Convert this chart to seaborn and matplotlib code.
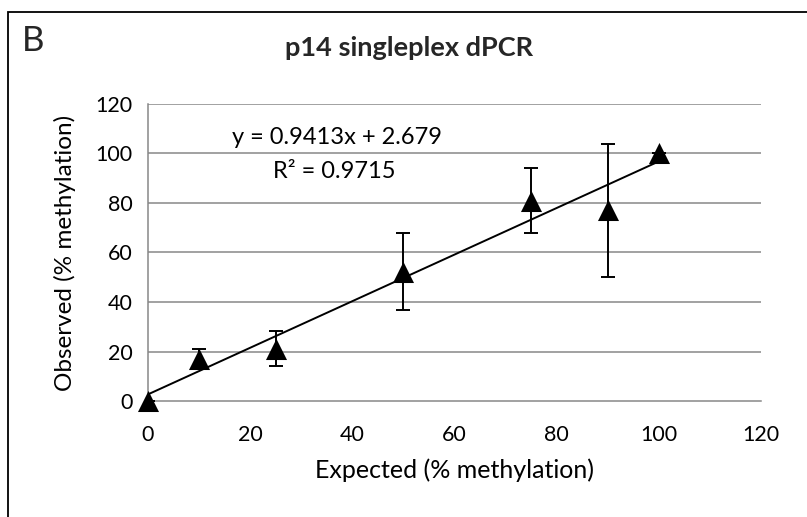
import numpy as np
import pandas as pd
import matplotlib
matplotlib.use("Agg")
import matplotlib.pyplot as plt
import matplotlib.patches as mpatches
import seaborn as sns

# Expected vs observed methylation (p14 singleplex dPCR)
expected = [0, 10, 25, 50, 75, 90, 100]
observed = [0, 17, 21.2, 52.2, 81, 77, 100]
err = [0, 4, 7, 15.5, 13, 27, 0]

# Linear trendline as reported
slope = 0.9413
intercept = 2.679
r_squared = 0.9715

x_ticks = [0, 20, 40, 60, 80, 100, 120]
y_ticks = [0, 20, 40, 60, 80, 100, 120]

sns.set_theme(style="white")
plt.rcParams["font.family"] = ["Lato", "DejaVu Sans"]

df = pd.DataFrame({"expected": expected, "observed": observed, "err": err})

fig = plt.figure(figsize=(8.07, 5.17), dpi=100)
ax = fig.add_axes([148 / 807, 116 / 517, (761 - 148) / 807, (401 - 104) / 517])

grid_col = "#878787"
for yv in y_ticks[1:]:
    ax.axhline(yv, color=grid_col, lw=1.1, zorder=0)

# trendline
xl = np.array([min(expected), max(expected)])
ax.plot(xl, slope * xl + intercept, color="black", lw=1.4, zorder=2)

# error bars
ax.errorbar(df["expected"], df["observed"], yerr=df["err"], fmt="none",
            ecolor="black", elinewidth=1.4, capsize=5, capthick=1.4, zorder=3)

sns.scatterplot(data=df, x="expected", y="observed", marker="^", s=230,
                color="black", edgecolor="black", linewidth=0, ax=ax, zorder=4,
                legend=False, clip_on=False)

ax.set_xlim(0, 120)
ax.set_ylim(0, 120)
ax.set_xticks(x_ticks)
ax.set_yticks(y_ticks)
ax.tick_params(axis="both", which="both", length=8, width=1.1, color=grid_col,
               labelsize=15.5, labelcolor="black", pad=3)
ax.tick_params(axis="x", pad=9)
for side in ["top", "right"]:
    ax.spines[side].set_visible(False)
for side in ["left", "bottom"]:
    ax.spines[side].set_color(grid_col)
    ax.spines[side].set_linewidth(1.1)

ax.set_xlabel("Expected (% methylation)", fontsize=18, color="black", labelpad=10)
ax.set_ylabel("Observed (% methylation)", fontsize=17.5, color="black", labelpad=14)

ax.text(37, 106.3, f"y = {slope:.4f}x + {intercept:.3f}", fontsize=17,
        ha="center", va="center", color="black")
ax.text(36.5, 92.6, f"R² = {r_squared:.4f}", fontsize=17,
        ha="center", va="center", color="black")

fig.text(409 / 807, 1 - 48 / 517, "p14 singleplex dPCR", fontsize=19.5,
         fontweight="bold", ha="center", va="center")
fig.text(22 / 807, 1 - 41 / 517, "B", fontsize=25, ha="left", va="center")

# outer panel frame
fig.patches.append(mpatches.Rectangle((8 / 807, -0.2), 2, 1.2 - 12 / 517,
                                      transform=fig.transFigure, fill=False,
                                      edgecolor="black", lw=1.3))

fig.savefig("out.png", dpi=100)
